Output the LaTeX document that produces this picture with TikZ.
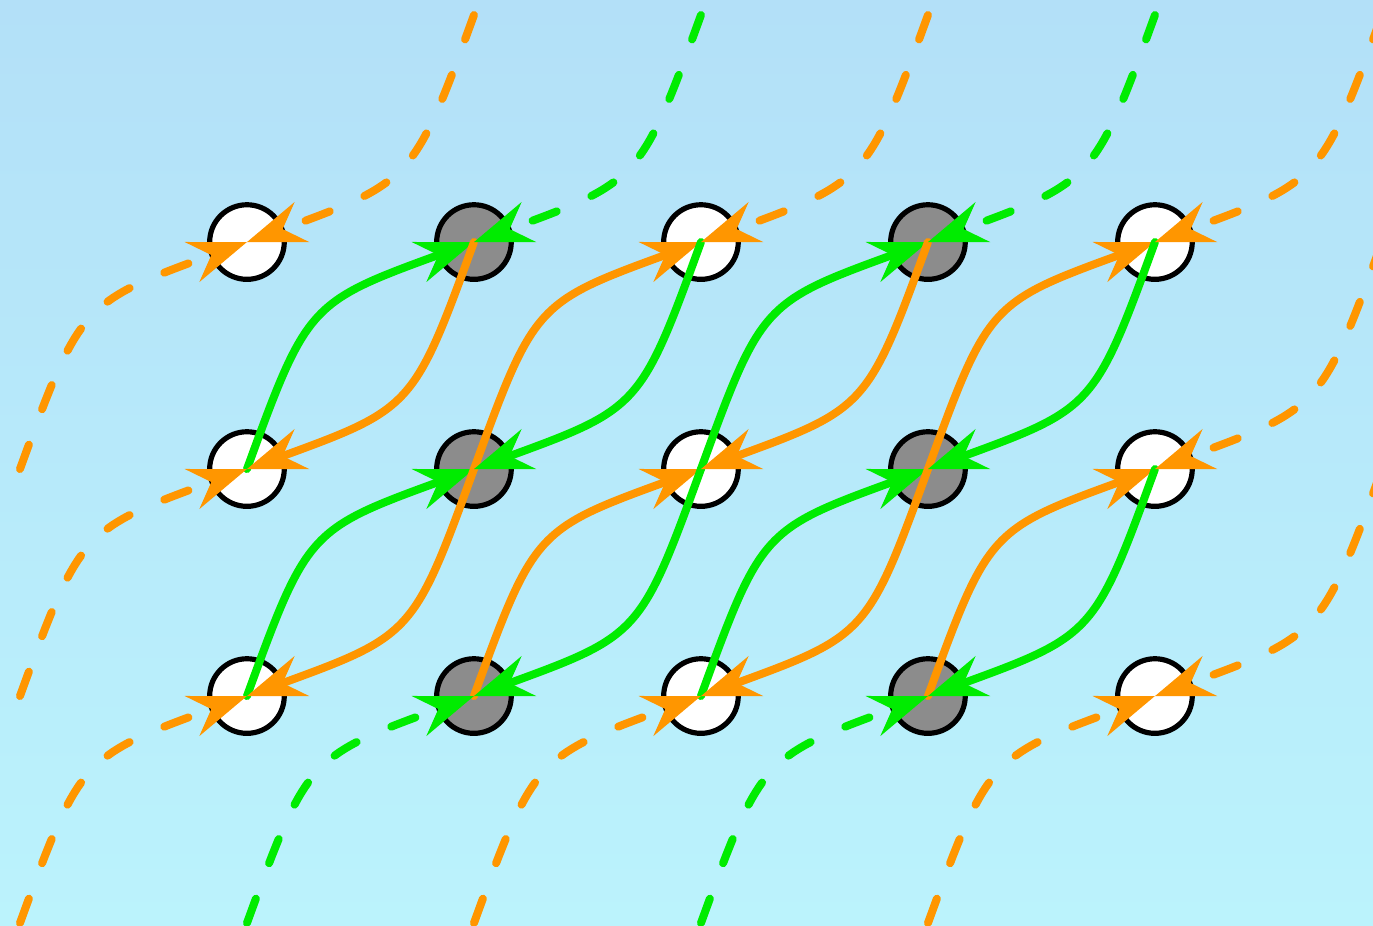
\documentclass[tikz,border=0pt]{standalone}
\usetikzlibrary{arrows.meta}

\definecolor{bgtop}{RGB}{179,224,248}
\definecolor{bgbot}{RGB}{187,243,252}
\definecolor{flowA}{RGB}{255,150,0}
\definecolor{flowB}{RGB}{0,236,0}
\definecolor{siteB}{RGB}{140,140,140}

\tikzset{
	site/.style={circle, draw=black, line width=1.3pt, minimum size=18.7pt, inner sep=0pt},
	link/.style={line width=2pt, line cap=round, -{Stealth[length=14.5pt, width=10.5pt, inset=5pt]}},
	ghost/.style={link, dash pattern=on 6.5pt off 9.5pt},
	up/.style={out=70, in=200, looseness=1.4},
	down/.style={out=250, in=20, looseness=1.4},
}

\begin{document}
\begin{tikzpicture}[x=2cm, y=2cm]
	\useasboundingbox (0, 0) rectangle (6.0485, 4.0793);
	\shade[top color=bgtop, bottom color=bgbot] (0, 0) rectangle (6.0485, 4.0793);
	\clip (0, 0) rectangle (6.0485, 4.0793);

	\foreach \cx in {0,...,6}
		\foreach \ry in {0,...,4}
			\coordinate (g-\cx-\ry) at ({\cx+0.088}, {4.013-\ry});

	\foreach \cx/\f in {1/white, 2/siteB, 3/white, 4/siteB, 5/white}
		\foreach \ry in {1,2,3}
			\node[site, fill=\f] (s-\cx-\ry) at (g-\cx-\ry) {};

	\foreach \cx/\dx/\u/\w in {1/2/flowB/flowA, 2/3/flowA/flowB, 3/4/flowB/flowA, 4/5/flowA/flowB}
		\foreach \ry/\sy in {1/2, 2/3} {
			\draw[link, color=\u] (s-\cx-\sy.center) to[up] (s-\dx-\ry.center);
			\draw[link, color=\w] (s-\dx-\ry.center) to[down] (s-\cx-\sy.center);
		}

	\foreach \ry/\sy in {1/2, 2/3, 3/4}
		\draw[ghost, color=flowA] (g-0-\sy) to[up] (s-1-\ry.center);
	\foreach \cx/\dx/\u in {1/2/flowB, 2/3/flowA, 3/4/flowB, 4/5/flowA}
		\draw[ghost, color=\u] (g-\cx-4) to[up] (s-\dx-3.center);
	\foreach \cx/\dx/\w in {1/2/flowA, 2/3/flowB, 3/4/flowA, 4/5/flowB, 5/6/flowA}
		\draw[ghost, color=\w] (g-\dx-0) to[down] (s-\cx-1.center);
	\foreach \ry/\sy in {1/2, 2/3}
		\draw[ghost, color=flowA] (g-6-\ry) to[down] (s-5-\sy.center);
\end{tikzpicture}
\end{document}
